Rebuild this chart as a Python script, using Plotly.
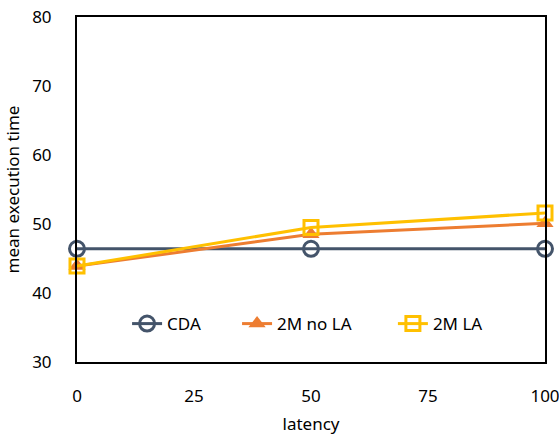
import plotly.graph_objects as go

latency = [0, 50, 100]
cda = [46.4, 46.4, 46.4]
no_la = [43.9, 48.5, 50.1]
la = [43.9, 49.5, 51.6]

x_ticks = [0, 25, 50, 75, 100]
y_ticks = [30, 40, 50, 60, 70, 80]

FONT = "Noto Sans"

fig = go.Figure()
fig.add_trace(go.Scatter(
    x=latency, y=cda, name="CDA", mode="lines+markers",
    line=dict(color="#44546A", width=3),
    marker=dict(symbol="circle-open", size=15, line=dict(width=3, color="#44546A")),
    cliponaxis=False, legend="legend",
))
fig.add_trace(go.Scatter(
    x=latency, y=no_la, name="2M no LA", mode="lines+markers",
    line=dict(color="#ED7D31", width=3),
    marker=dict(symbol="triangle-up", size=15, color="#ED7D31"),
    cliponaxis=False, legend="legend2",
))
fig.add_trace(go.Scatter(
    x=latency, y=la, name="2M LA", mode="lines+markers",
    line=dict(color="#FFC000", width=3),
    marker=dict(symbol="square-open", size=14, line=dict(width=3, color="#FFC000")),
    cliponaxis=False, legend="legend3",
))

legend_style = dict(
    orientation="h", y=0.11, yanchor="middle", xanchor="left",
    font=dict(size=17), bgcolor="rgba(0,0,0,0)",
)

fig.update_layout(
    width=559, height=436,
    margin=dict(l=77, r=14, t=17, b=74, autoexpand=False),
    paper_bgcolor="white", plot_bgcolor="white",
    font=dict(family=FONT, size=17, color="#000000"),
    showlegend=True,
    legend=dict(x=0.107, **legend_style),
    legend2=dict(x=0.342, **legend_style),
    legend3=dict(x=0.675, **legend_style),
)
fig.update_xaxes(
    range=[0, 100], tickvals=x_ticks, showgrid=False, zeroline=False,
    showline=True, linecolor="black", linewidth=2, mirror=True,
    ticks="outside", ticklen=18, tickcolor="white", automargin=False,
    ticklabeloverflow="allow",
    title=dict(text="latency", font=dict(size=17), standoff=12),
)
fig.update_yaxes(
    range=[30, 80], tickvals=y_ticks, showgrid=False, zeroline=False,
    showline=True, linecolor="black", linewidth=2, mirror=True,
    ticks="outside", ticklen=20, tickcolor="white", automargin=False,
    title=dict(text="mean execution time", font=dict(size=17), standoff=8),
)

fig.write_html("out.html")
